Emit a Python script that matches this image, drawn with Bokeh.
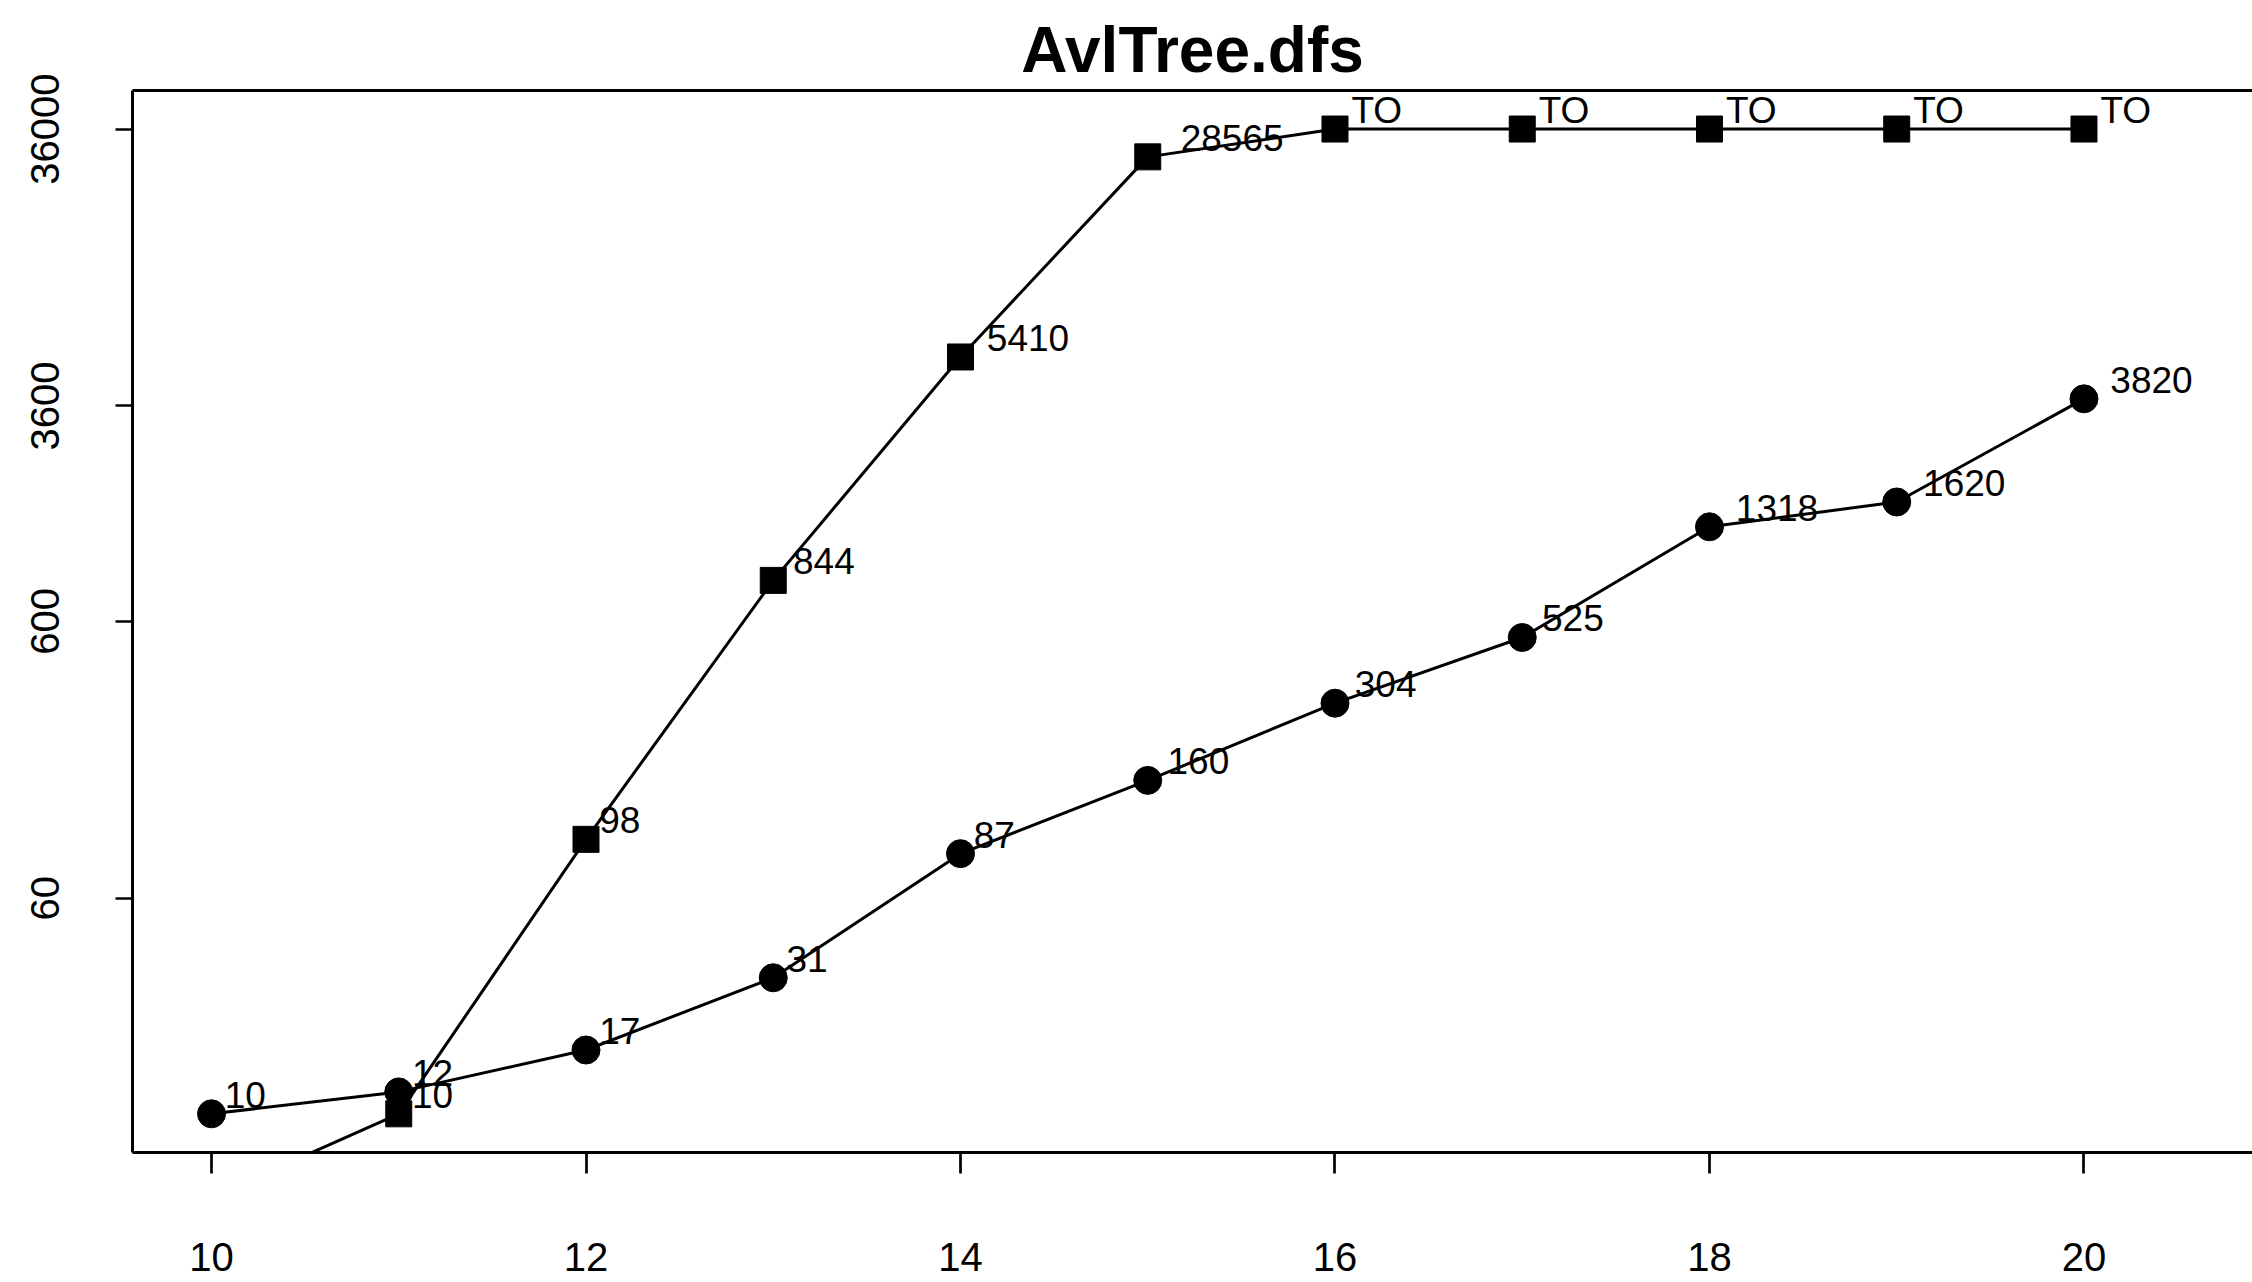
from bokeh.plotting import figure
from bokeh.models import Range1d, FixedTicker, LinearAxis, ColumnDataSource
from bokeh.core.properties import value
from bokeh.embed import file_html
from bokeh.resources import INLINE

# ---- data ----
title_text = "AvlTree.dfs"
x_vals = [10, 11, 12, 13, 14, 15, 16, 17, 18, 19, 20]
circle_vals = [10, 12, 17, 31, 87, 160, 304, 525, 1318, 1620, 3820]
square_vals = [5, 10, 98, 844, 5410, 28565, None, None, None, None, None]
timeout_value = 36000
timeout_label = "TO"
x_ticks = [10, 12, 14, 16, 18, 20]
y_ticks = [60, 600, 3600, 36000]
y_tick_labels = ["60", "600", "3600", "36000"]

FONT = "Liberation Sans"
LABEL_FS = 37


def est_width(s, fs):
    w = {"T": 0.611, "O": 0.778}
    return sum(w.get(c, 0.556) for c in s) * fs


sq_y = [v if v is not None else timeout_value for v in square_vals]
sq_lab = [str(v) if v is not None else timeout_label for v in square_vals]
ci_lab = [str(v) for v in circle_vals]

sq_src = ColumnDataSource(dict(x=x_vals, y=sq_y, label=sq_lab,
                               xoff=[0.32 * est_width(s, LABEL_FS) for s in sq_lab]))
ci_src = ColumnDataSource(dict(x=x_vals, y=circle_vals, label=ci_lab,
                               xoff=[0.32 * est_width(s, LABEL_FS) for s in ci_lab]))

W, H = 2252, 1282
X0, X1 = 9.578, 20.9
Y0, Y1 = 7.25, 49600
p = figure(width=W, height=H, y_axis_type="log",
           x_range=Range1d(X0, X1), y_range=Range1d(Y0, Y1),
           output_backend="svg", toolbar_location=None,
           min_border_left=132, min_border_right=0, min_border_top=90,
           min_border_bottom=130)

p.outline_line_color = None
p.xgrid.visible = False
p.ygrid.visible = False
p.background_fill_color = "white"
p.border_fill_color = "white"

# title
p.title.text = title_text
p.title.align = "center"
p.title.offset = 12
p.title.text_font = FONT
p.title.text_font_size = "64px"
p.title.text_font_style = "bold"
p.title.text_color = "black"
p.title.text_line_height = 0.7
p.title.standoff = 10

# series
p.line("x", "y", source=sq_src, line_color="black", line_width=3)
p.scatter("x", "y", source=sq_src, marker="square", size=26,
          fill_color="black", line_color="black")
p.line("x", "y", source=ci_src, line_color="black", line_width=3)
p.scatter("x", "y", source=ci_src, marker="circle", size=28,
          fill_color="black", line_color="black")

for src in (sq_src, ci_src):
    p.text("x", "y", text="label", source=src, x_offset="xoff", y_offset=-19,
           text_align="left", text_baseline="middle",
           text_font=value(FONT), text_font_size=f"{LABEL_FS}px",
           text_color="black")

# axes
for ax in (p.xaxis[0], p.yaxis[0]):
    ax.axis_line_width = 3
    ax.axis_line_color = "black"
    ax.major_tick_line_width = 2.7
    ax.major_tick_line_color = "black"
    ax.major_tick_in = 0
    ax.minor_tick_line_color = None
    ax.major_label_text_font = FONT
    ax.major_label_text_font_size = "40px"
    ax.major_label_text_color = "black"

p.xaxis[0].ticker = FixedTicker(ticks=x_ticks)
p.xaxis[0].major_tick_out = 21
p.xaxis[0].major_label_standoff = 69

p.yaxis[0].ticker = FixedTicker(ticks=y_ticks)
p.yaxis[0].major_label_overrides = {t: l for t, l in zip(y_ticks, y_tick_labels)}
p.yaxis[0].major_tick_out = 17
p.yaxis[0].major_label_standoff = 56
p.yaxis[0].major_label_orientation = "vertical"

top_axis = LinearAxis(ticker=FixedTicker(ticks=[]), axis_line_width=3,
                      axis_line_color="black", major_tick_line_color=None,
                      minor_tick_line_color=None, major_label_text_font_size="0px")
p.add_layout(top_axis, "above")

open("out.html", "w").write(file_html(p, INLINE))
